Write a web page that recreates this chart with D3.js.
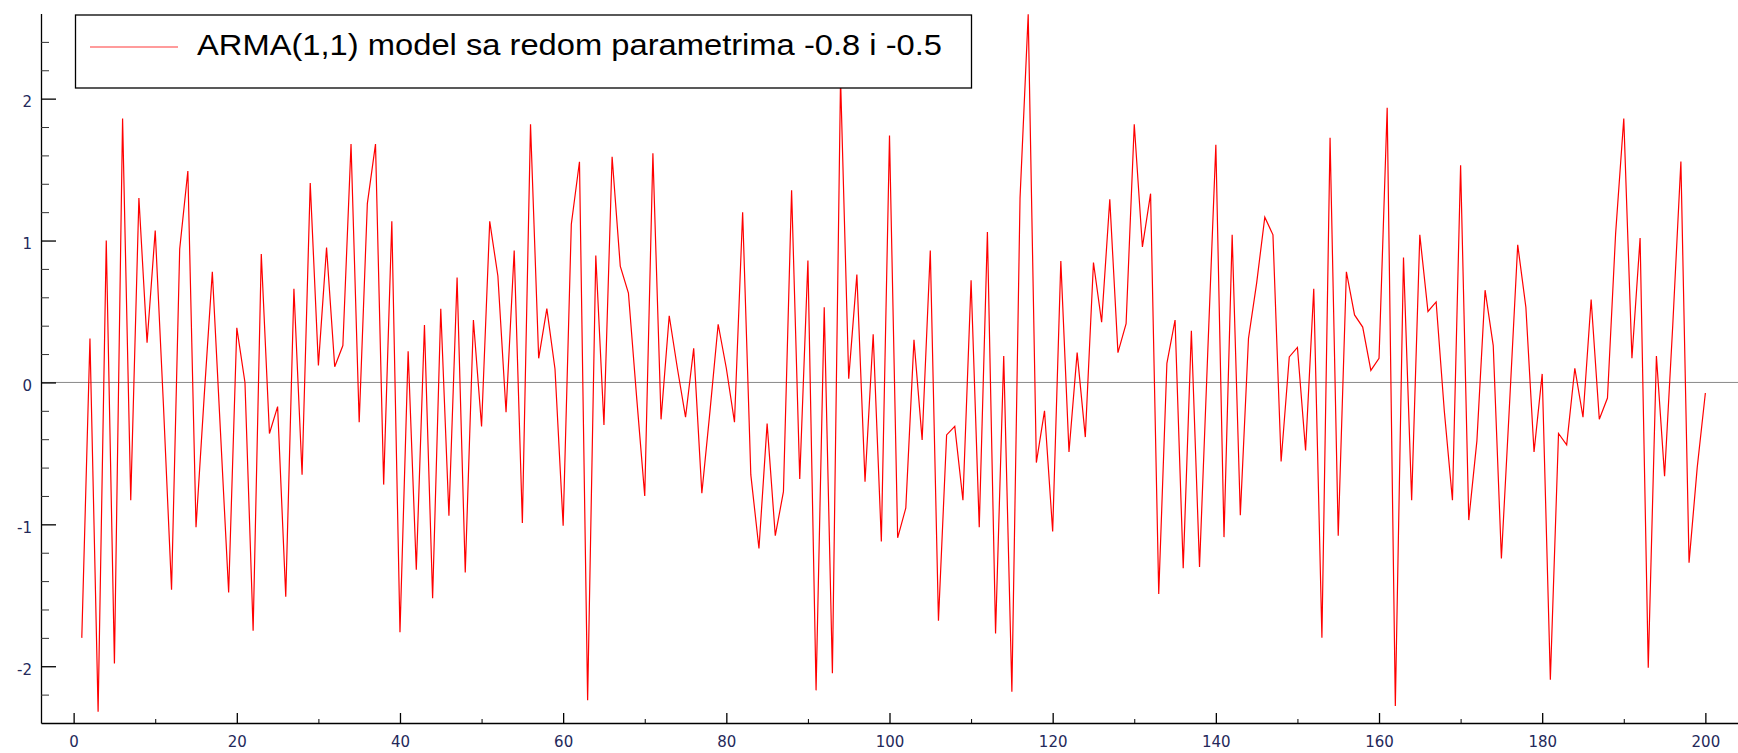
<!DOCTYPE html>
<html>
<head>
<meta charset="utf-8">
<script src="https://cdn.jsdelivr.net/npm/d3@7"></script>
<style>
  body { margin: 0; background: #fff; }
  #visContainer svg { display: block; }
</style>
</head>
<body>
<div id="visContainer"></div>
<script>
// series values, t = 1..200
const seriesName = "ARMA(1,1) model sa redom parametrima -0.8 i -0.5";
const values = [
  -1.80, 0.31, -2.32, 1.00, -1.98, 1.86, -0.83, 1.30, 0.28, 1.07,
  -0.15, -1.46, 0.94, 1.49, -1.02, -0.10, 0.78, -0.35, -1.48, 0.385,
  0.00, -1.75, 0.905, -0.36, -0.17, -1.51, 0.66, -0.65, 1.405, 0.12,
  0.95, 0.11, 0.26, 1.68, -0.28, 1.26, 1.68, -0.72, 1.135, -1.76,
  0.22, -1.32, 0.405, -1.52, 0.52, -0.94, 0.74, -1.34, 0.44, -0.31,
  1.135, 0.75, -0.21, 0.93, -0.99, 1.82, 0.17, 0.52, 0.095, -1.01,
  1.115, 1.555, -2.24, 0.895, -0.30, 1.59, 0.82, 0.63, -0.10, -0.80,
  1.615, -0.26, 0.47, 0.10, -0.245, 0.24, -0.78, -0.20, 0.41, 0.10,
  -0.28, 1.20, -0.65, -1.17, -0.29, -1.08, -0.77, 1.355, -0.68, 0.86,
  -2.17, 0.53, -2.05, 2.145, 0.027, 0.76, -0.70, 0.34, -1.12, 1.74,
  -1.095, -0.885, 0.30, -0.405, 0.93, -1.68, -0.37, -0.31, -0.83, 0.72,
  -1.02, 1.06, -1.77, 0.186, -2.18, 1.30, 2.595, -0.565, -0.20, -1.05,
  0.855, -0.49, 0.21, -0.385, 0.845, 0.425, 1.29, 0.21, 0.415, 1.82,
  0.955, 1.33, -1.49, 0.135, 0.44, -1.31, 0.365, -1.30, 0.20, 1.675,
  -1.09, 1.04, -0.935, 0.31, 0.70, 1.165, 1.04, -0.557, 0.18, 0.247,
  -0.48, 0.66, -1.80, 1.725, -1.08, 0.78, 0.476, 0.39, 0.085, 0.17,
  1.935, -2.28, 0.88, -0.83, 1.04, 0.50, 0.567, -0.20, -0.83, 1.53,
  -0.97, -0.41, 0.65, 0.26, -1.24, -0.15, 0.97, 0.53, -0.49, 0.06,
  -2.095, -0.36, -0.44, 0.10, -0.245, 0.585, -0.26, -0.11, 1.05, 1.86,
  0.17, 1.017, -2.01, 0.186, -0.66, 0.40, 1.557, -1.27, -0.60, -0.074
];

// tick labels
const xMajorTicks = [0, 20, 40, 60, 80, 100, 120, 140, 160, 180, 200];
const xMinorTicks = [10, 30, 50, 70, 90, 110, 130, 150, 170, 190];
const yMajorTicks = [-2, -1, 0, 1, 2];
const yMinorTicks = [-2.2, -1.8, -1.6, -1.4, -1.2, -0.8, -0.6, -0.4, -0.2,
                     0.2, 0.4, 0.6, 0.8, 1.2, 1.4, 1.6, 1.8, 2.2, 2.4];

function renderChart() {
    const width = 1738;
    const height = 753;

    const svg = d3.select('#visContainer').append("svg")
        .attr("width", width)
        .attr("height", height)
        .style("background", "#fff");

    const x = d3.scaleLinear()
        .domain([-4, 204])
        .range([41, width]);

    const y = d3.scaleLinear()
        .domain([-2.4, 2.6])
        .range([723, 13.5]);

    const labelFont = "15px 'DejaVu Sans', Verdana, sans-serif";
    const labelColor = "#24295a";

    // zero line
    svg.append("line")
        .attr("x1", x(-4)).attr("x2", x(204))
        .attr("y1", y(0)).attr("y2", y(0))
        .attr("stroke", "#8a8a8a")
        .attr("stroke-width", 1);

    // the series
    const line = d3.line()
        .x((d, i) => x(i + 1))
        .y(d => y(d));

    svg.append("path")
        .datum(values)
        .attr("fill", "none")
        .attr("stroke", "#ff0000")
        .attr("stroke-width", 1.2)
        .attr("stroke-linejoin", "miter")
        .attr("d", line);

    // x axis: minor ticks then major ticks with labels
    svg.append("g")
        .attr("transform", `translate(0,${y(-2.4)})`)
        .call(d3.axisBottom(x).tickValues(xMinorTicks).tickSizeInner(-4).tickSizeOuter(0).tickFormat(""))
        .call(g => g.select(".domain").attr("stroke", "#000").attr("stroke-width", 1.3));

    svg.append("g")
        .attr("transform", `translate(0,${y(-2.4)})`)
        .call(d3.axisBottom(x).tickValues(xMajorTicks).tickSizeInner(-10).tickSizeOuter(0).tickPadding(13))
        .call(g => g.select(".domain").remove())
        .call(g => g.selectAll("line").attr("stroke", "#000").attr("stroke-width", 1.3))
        .call(g => g.selectAll("text").style("font", labelFont).attr("fill", labelColor));

    // y axis (plain hyphen for negatives, like the original)
    svg.append("g")
        .attr("transform", `translate(${x(-4)},0)`)
        .call(d3.axisLeft(y).tickValues(yMinorTicks).tickSizeInner(-8).tickSizeOuter(0).tickFormat(""))
        .call(g => g.select(".domain").attr("stroke", "#000").attr("stroke-width", 1.3))
        .call(g => g.selectAll(".tick line").attr("stroke", "#333"));

    svg.append("g")
        .attr("transform", `translate(${x(-4)},0)`)
        .call(d3.axisLeft(y).tickValues(yMajorTicks).tickSizeInner(-15).tickSizeOuter(0).tickPadding(9).tickFormat(d => String(d)))
        .call(g => g.select(".domain").remove())
        .call(g => g.selectAll("line").attr("stroke", "#000").attr("stroke-width", 1.3))
        .call(g => g.selectAll("text").style("font", labelFont).attr("fill", labelColor).attr("dy", "0.55em"));

    // legend box, drawn on top of the curve
    const legend = svg.append("g");

    legend.append("rect")
        .attr("x", 75.5).attr("y", 15)
        .attr("width", 896).attr("height", 73)
        .attr("fill", "#fff")
        .attr("stroke", "#000")
        .attr("stroke-width", 1.3);

    legend.append("line")
        .attr("x1", 90).attr("x2", 178)
        .attr("y1", 47).attr("y2", 47)
        .attr("stroke", "#ff7a7a")
        .attr("stroke-width", 1.5);

    legend.append("text")
        .attr("x", 197)
        .attr("y", 55)
        .attr("textLength", 745)
        .attr("lengthAdjust", "spacingAndGlyphs")
        .style("font", "29px 'Liberation Sans', Arial, sans-serif")
        .attr("fill", "#000")
        .text(seriesName);
}

document.addEventListener("DOMContentLoaded", function(event) {
    renderChart()
});
</script>
</body>
</html>
